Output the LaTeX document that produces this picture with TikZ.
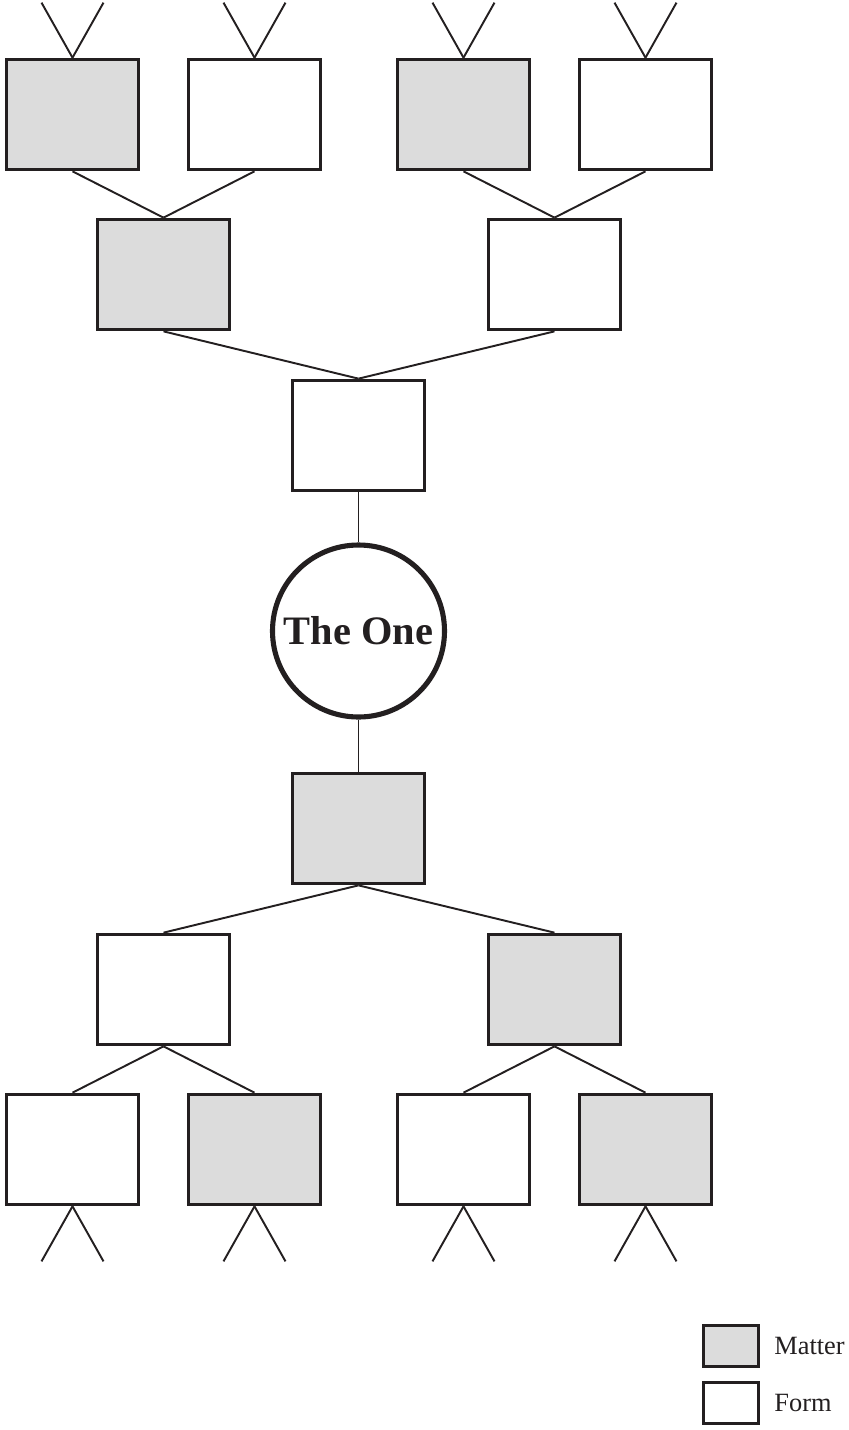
\documentclass[tikz,border=0pt]{standalone}
\usepackage{fontspec}
\setmainfont{Liberation Serif}
\usepackage{tikz}
\usetikzlibrary{shapes, positioning, calc}
\definecolor{mattergrey}{RGB}{220,220,220}
\definecolor{ink}{RGB}{35,31,32}
\tikzstyle{matter} = [rectangle, minimum width=2.64cm, minimum height=2.2cm, inner sep=0pt, draw=ink, line width=2.1pt, fill=mattergrey]
\tikzstyle{form} = [rectangle, minimum width=2.64cm, minimum height=2.2cm, inner sep=0pt, draw=ink, line width=2.1pt, fill=white]
\tikzstyle{one} = [circle, minimum size=3.44cm, inner sep=0pt, draw=ink, line width=2.9pt, font=\fontsize{23}{26}\selectfont\bfseries, text=ink]
\tikzstyle{keybox} = [rectangle, minimum width=1.1cm, minimum height=0.82cm, inner sep=0pt, draw=ink, line width=1.8pt]
\tikzstyle{link} = [draw=ink, line width=1.1pt]

\begin{document}
\begin{tikzpicture}[node distance=3.2cm]
\useasboundingbox (0,0) rectangle (16.96,-28.6);

\node (one) [one] at (7.17,-12.62) {The One};

% upper half
\node (u3) [form] at (7.17,-8.71) {};
\node (u2a) [matter, above of=u3, xshift=-3.9cm, yshift=0.02cm] {};
\node (u2b) [form, above of=u3, xshift=3.92cm, yshift=0.02cm] {};
\node (u1a) [matter, above of=u2a, xshift=-1.82cm] {};
\node (u1b) [form, above of=u2a, xshift=1.82cm] {};
\node (u1c) [matter, above of=u2b, xshift=-1.82cm] {};
\node (u1d) [form, above of=u2b, xshift=1.82cm] {};

% lower half
\node (l4) [matter] at (7.17,-16.57) {};
\node (l5a) [form, below of=l4, xshift=-3.9cm, yshift=-0.02cm] {};
\node (l5b) [matter, below of=l4, xshift=3.92cm, yshift=-0.02cm] {};
\node (l6a) [form, below of=l5a, xshift=-1.82cm] {};
\node (l6b) [matter, below of=l5a, xshift=1.82cm] {};
\node (l6c) [form, below of=l5b, xshift=-1.82cm] {};
\node (l6d) [matter, below of=l5b, xshift=1.82cm] {};

% key
\node (keyMatter) [keybox, fill=mattergrey] at (14.62,-26.92) {};
\node (keyForm) [keybox, fill=white] at (14.62,-28.06) {};
\node (keyMatterText) [right=0.28cm of keyMatter, inner sep=0pt, font=\fontsize{15}{18}\selectfont, text=ink] {Matter};
\node (keyFormText) [right=0.28cm of keyForm, inner sep=0pt, font=\fontsize{15}{18}\selectfont, text=ink] {Form};

\draw[link] (u3.south) -- (one.north);
\draw[link] (one.south) -- (l4.north);
\draw[link] (u2a.south) -- (u3.north);
\draw[link] (u2b.south) -- (u3.north);
\draw[link] (l4.south) -- (l5a.north);
\draw[link] (l4.south) -- (l5b.north);
\draw[link] (u1a.south) -- (u2a.north);
\draw[link] (u1b.south) -- (u2a.north);
\draw[link] (u1c.south) -- (u2b.north);
\draw[link] (u1d.south) -- (u2b.north);
\draw[link] (l5a.south) -- (l6a.north);
\draw[link] (l5a.south) -- (l6b.north);
\draw[link] (l5b.south) -- (l6c.north);
\draw[link] (l5b.south) -- (l6d.north);

% branches going on beyond the last rows
\foreach \n in {u1a,u1b,u1c,u1d} {
  \draw[link] (\n.north) -- +(-0.62,1.1);
  \draw[link] (\n.north) -- +(0.62,1.1);
}
\foreach \n in {l6a,l6b,l6c,l6d} {
  \draw[link] (\n.south) -- +(-0.62,-1.1);
  \draw[link] (\n.south) -- +(0.62,-1.1);
}

\end{tikzpicture}
\end{document}
